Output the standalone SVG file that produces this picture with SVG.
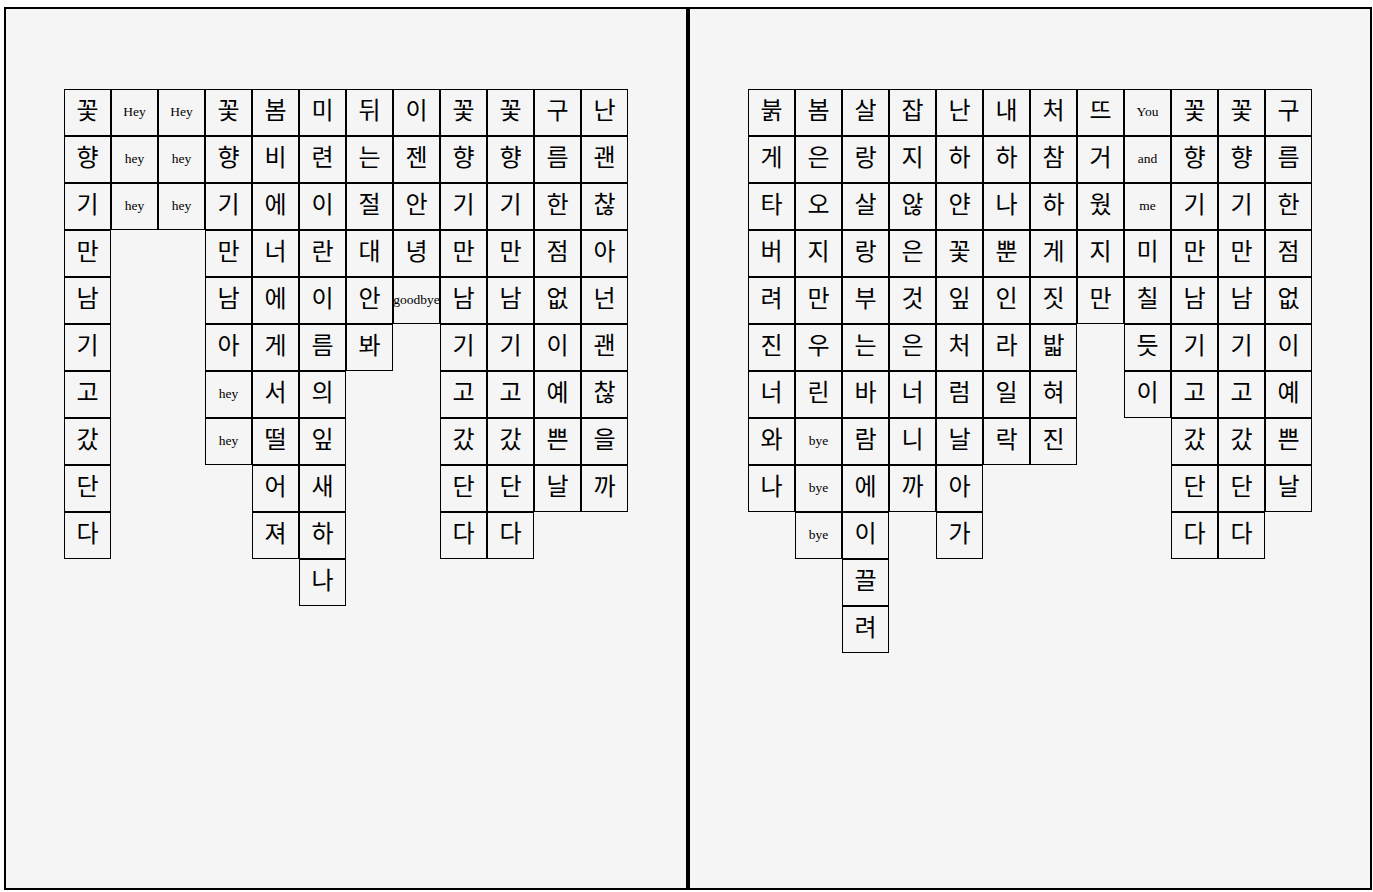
<svg xmlns="http://www.w3.org/2000/svg" width="1373" height="892" viewBox="0 0 1373 892">
<style>
.p{fill:#f5f5f5;stroke:#000;stroke-width:2}
.c{fill:#f5f5f5;stroke:#000;stroke-width:1}
.k{font-family:"Noto Sans CJK KR","Noto Sans",sans-serif;font-size:24px;text-anchor:middle;fill:#000}
.e{font-family:"Liberation Serif",serif;font-size:13.5px;text-anchor:middle;fill:#000}
</style>
<defs>
<rect id="box" class="c" x="0.5" y="0.5" width="46" height="46"/>
</defs>
<rect width="1373" height="892" fill="#fff"/>
<g id="panel-left"><rect class="p" x="5" y="8" width="682" height="881"/></g>
<g id="panel-right"><rect class="p" x="689" y="8" width="682" height="881"/></g>
<g id="connectors"></g>

<g id="left-grid">
<g id="L0-0" transform="translate(64,89)"><use href="#box"/><text class="k" x="23.5" y="29.5">꽃</text></g>
<g id="L0-1" transform="translate(64,136)"><use href="#box"/><text class="k" x="23.5" y="29.5">향</text></g>
<g id="L0-2" transform="translate(64,183)"><use href="#box"/><text class="k" x="23.5" y="29.5">기</text></g>
<g id="L0-3" transform="translate(64,230)"><use href="#box"/><text class="k" x="23.5" y="29.5">만</text></g>
<g id="L0-4" transform="translate(64,277)"><use href="#box"/><text class="k" x="23.5" y="29.5">남</text></g>
<g id="L0-5" transform="translate(64,324)"><use href="#box"/><text class="k" x="23.5" y="29.5">기</text></g>
<g id="L0-6" transform="translate(64,371)"><use href="#box"/><text class="k" x="23.5" y="29.5">고</text></g>
<g id="L0-7" transform="translate(64,418)"><use href="#box"/><text class="k" x="23.5" y="29.5">갔</text></g>
<g id="L0-8" transform="translate(64,465)"><use href="#box"/><text class="k" x="23.5" y="29.5">단</text></g>
<g id="L0-9" transform="translate(64,512)"><use href="#box"/><text class="k" x="23.5" y="29.5">다</text></g>

<g id="L1-0" transform="translate(111,89)"><use href="#box"/><text class="e" x="23.5" y="27">Hey</text></g>
<g id="L1-1" transform="translate(111,136)"><use href="#box"/><text class="e" x="23.5" y="27">hey</text></g>
<g id="L1-2" transform="translate(111,183)"><use href="#box"/><text class="e" x="23.5" y="27">hey</text></g>

<g id="L2-0" transform="translate(158,89)"><use href="#box"/><text class="e" x="23.5" y="27">Hey</text></g>
<g id="L2-1" transform="translate(158,136)"><use href="#box"/><text class="e" x="23.5" y="27">hey</text></g>
<g id="L2-2" transform="translate(158,183)"><use href="#box"/><text class="e" x="23.5" y="27">hey</text></g>

<g id="L3-0" transform="translate(205,89)"><use href="#box"/><text class="k" x="23.5" y="29.5">꽃</text></g>
<g id="L3-1" transform="translate(205,136)"><use href="#box"/><text class="k" x="23.5" y="29.5">향</text></g>
<g id="L3-2" transform="translate(205,183)"><use href="#box"/><text class="k" x="23.5" y="29.5">기</text></g>
<g id="L3-3" transform="translate(205,230)"><use href="#box"/><text class="k" x="23.5" y="29.5">만</text></g>
<g id="L3-4" transform="translate(205,277)"><use href="#box"/><text class="k" x="23.5" y="29.5">남</text></g>
<g id="L3-5" transform="translate(205,324)"><use href="#box"/><text class="k" x="23.5" y="29.5">아</text></g>
<g id="L3-6" transform="translate(205,371)"><use href="#box"/><text class="e" x="23.5" y="27">hey</text></g>
<g id="L3-7" transform="translate(205,418)"><use href="#box"/><text class="e" x="23.5" y="27">hey</text></g>

<g id="L4-0" transform="translate(252,89)"><use href="#box"/><text class="k" x="23.5" y="29.5">봄</text></g>
<g id="L4-1" transform="translate(252,136)"><use href="#box"/><text class="k" x="23.5" y="29.5">비</text></g>
<g id="L4-2" transform="translate(252,183)"><use href="#box"/><text class="k" x="23.5" y="29.5">에</text></g>
<g id="L4-3" transform="translate(252,230)"><use href="#box"/><text class="k" x="23.5" y="29.5">너</text></g>
<g id="L4-4" transform="translate(252,277)"><use href="#box"/><text class="k" x="23.5" y="29.5">에</text></g>
<g id="L4-5" transform="translate(252,324)"><use href="#box"/><text class="k" x="23.5" y="29.5">게</text></g>
<g id="L4-6" transform="translate(252,371)"><use href="#box"/><text class="k" x="23.5" y="29.5">서</text></g>
<g id="L4-7" transform="translate(252,418)"><use href="#box"/><text class="k" x="23.5" y="29.5">떨</text></g>
<g id="L4-8" transform="translate(252,465)"><use href="#box"/><text class="k" x="23.5" y="29.5">어</text></g>
<g id="L4-9" transform="translate(252,512)"><use href="#box"/><text class="k" x="23.5" y="29.5">져</text></g>

<g id="L5-0" transform="translate(299,89)"><use href="#box"/><text class="k" x="23.5" y="29.5">미</text></g>
<g id="L5-1" transform="translate(299,136)"><use href="#box"/><text class="k" x="23.5" y="29.5">련</text></g>
<g id="L5-2" transform="translate(299,183)"><use href="#box"/><text class="k" x="23.5" y="29.5">이</text></g>
<g id="L5-3" transform="translate(299,230)"><use href="#box"/><text class="k" x="23.5" y="29.5">란</text></g>
<g id="L5-4" transform="translate(299,277)"><use href="#box"/><text class="k" x="23.5" y="29.5">이</text></g>
<g id="L5-5" transform="translate(299,324)"><use href="#box"/><text class="k" x="23.5" y="29.5">름</text></g>
<g id="L5-6" transform="translate(299,371)"><use href="#box"/><text class="k" x="23.5" y="29.5">의</text></g>
<g id="L5-7" transform="translate(299,418)"><use href="#box"/><text class="k" x="23.5" y="29.5">잎</text></g>
<g id="L5-8" transform="translate(299,465)"><use href="#box"/><text class="k" x="23.5" y="29.5">새</text></g>
<g id="L5-9" transform="translate(299,512)"><use href="#box"/><text class="k" x="23.5" y="29.5">하</text></g>
<g id="L5-10" transform="translate(299,559)"><use href="#box"/><text class="k" x="23.5" y="29.5">나</text></g>

<g id="L6-0" transform="translate(346,89)"><use href="#box"/><text class="k" x="23.5" y="29.5">뒤</text></g>
<g id="L6-1" transform="translate(346,136)"><use href="#box"/><text class="k" x="23.5" y="29.5">는</text></g>
<g id="L6-2" transform="translate(346,183)"><use href="#box"/><text class="k" x="23.5" y="29.5">절</text></g>
<g id="L6-3" transform="translate(346,230)"><use href="#box"/><text class="k" x="23.5" y="29.5">대</text></g>
<g id="L6-4" transform="translate(346,277)"><use href="#box"/><text class="k" x="23.5" y="29.5">안</text></g>
<g id="L6-5" transform="translate(346,324)"><use href="#box"/><text class="k" x="23.5" y="29.5">봐</text></g>

<g id="L7-0" transform="translate(393,89)"><use href="#box"/><text class="k" x="23.5" y="29.5">이</text></g>
<g id="L7-1" transform="translate(393,136)"><use href="#box"/><text class="k" x="23.5" y="29.5">젠</text></g>
<g id="L7-2" transform="translate(393,183)"><use href="#box"/><text class="k" x="23.5" y="29.5">안</text></g>
<g id="L7-3" transform="translate(393,230)"><use href="#box"/><text class="k" x="23.5" y="29.5">녕</text></g>
<g id="L7-4" transform="translate(393,277)"><use href="#box"/><text class="e" x="23.5" y="27" font-size="13">goodbye</text></g>

<g id="L8-0" transform="translate(440,89)"><use href="#box"/><text class="k" x="23.5" y="29.5">꽃</text></g>
<g id="L8-1" transform="translate(440,136)"><use href="#box"/><text class="k" x="23.5" y="29.5">향</text></g>
<g id="L8-2" transform="translate(440,183)"><use href="#box"/><text class="k" x="23.5" y="29.5">기</text></g>
<g id="L8-3" transform="translate(440,230)"><use href="#box"/><text class="k" x="23.5" y="29.5">만</text></g>
<g id="L8-4" transform="translate(440,277)"><use href="#box"/><text class="k" x="23.5" y="29.5">남</text></g>
<g id="L8-5" transform="translate(440,324)"><use href="#box"/><text class="k" x="23.5" y="29.5">기</text></g>
<g id="L8-6" transform="translate(440,371)"><use href="#box"/><text class="k" x="23.5" y="29.5">고</text></g>
<g id="L8-7" transform="translate(440,418)"><use href="#box"/><text class="k" x="23.5" y="29.5">갔</text></g>
<g id="L8-8" transform="translate(440,465)"><use href="#box"/><text class="k" x="23.5" y="29.5">단</text></g>
<g id="L8-9" transform="translate(440,512)"><use href="#box"/><text class="k" x="23.5" y="29.5">다</text></g>

<g id="L9-0" transform="translate(487,89)"><use href="#box"/><text class="k" x="23.5" y="29.5">꽃</text></g>
<g id="L9-1" transform="translate(487,136)"><use href="#box"/><text class="k" x="23.5" y="29.5">향</text></g>
<g id="L9-2" transform="translate(487,183)"><use href="#box"/><text class="k" x="23.5" y="29.5">기</text></g>
<g id="L9-3" transform="translate(487,230)"><use href="#box"/><text class="k" x="23.5" y="29.5">만</text></g>
<g id="L9-4" transform="translate(487,277)"><use href="#box"/><text class="k" x="23.5" y="29.5">남</text></g>
<g id="L9-5" transform="translate(487,324)"><use href="#box"/><text class="k" x="23.5" y="29.5">기</text></g>
<g id="L9-6" transform="translate(487,371)"><use href="#box"/><text class="k" x="23.5" y="29.5">고</text></g>
<g id="L9-7" transform="translate(487,418)"><use href="#box"/><text class="k" x="23.5" y="29.5">갔</text></g>
<g id="L9-8" transform="translate(487,465)"><use href="#box"/><text class="k" x="23.5" y="29.5">단</text></g>
<g id="L9-9" transform="translate(487,512)"><use href="#box"/><text class="k" x="23.5" y="29.5">다</text></g>

<g id="L10-0" transform="translate(534,89)"><use href="#box"/><text class="k" x="23.5" y="29.5">구</text></g>
<g id="L10-1" transform="translate(534,136)"><use href="#box"/><text class="k" x="23.5" y="29.5">름</text></g>
<g id="L10-2" transform="translate(534,183)"><use href="#box"/><text class="k" x="23.5" y="29.5">한</text></g>
<g id="L10-3" transform="translate(534,230)"><use href="#box"/><text class="k" x="23.5" y="29.5">점</text></g>
<g id="L10-4" transform="translate(534,277)"><use href="#box"/><text class="k" x="23.5" y="29.5">없</text></g>
<g id="L10-5" transform="translate(534,324)"><use href="#box"/><text class="k" x="23.5" y="29.5">이</text></g>
<g id="L10-6" transform="translate(534,371)"><use href="#box"/><text class="k" x="23.5" y="29.5">예</text></g>
<g id="L10-7" transform="translate(534,418)"><use href="#box"/><text class="k" x="23.5" y="29.5">쁜</text></g>
<g id="L10-8" transform="translate(534,465)"><use href="#box"/><text class="k" x="23.5" y="29.5">날</text></g>

<g id="L11-0" transform="translate(581,89)"><use href="#box"/><text class="k" x="23.5" y="29.5">난</text></g>
<g id="L11-1" transform="translate(581,136)"><use href="#box"/><text class="k" x="23.5" y="29.5">괜</text></g>
<g id="L11-2" transform="translate(581,183)"><use href="#box"/><text class="k" x="23.5" y="29.5">찮</text></g>
<g id="L11-3" transform="translate(581,230)"><use href="#box"/><text class="k" x="23.5" y="29.5">아</text></g>
<g id="L11-4" transform="translate(581,277)"><use href="#box"/><text class="k" x="23.5" y="29.5">넌</text></g>
<g id="L11-5" transform="translate(581,324)"><use href="#box"/><text class="k" x="23.5" y="29.5">괜</text></g>
<g id="L11-6" transform="translate(581,371)"><use href="#box"/><text class="k" x="23.5" y="29.5">찮</text></g>
<g id="L11-7" transform="translate(581,418)"><use href="#box"/><text class="k" x="23.5" y="29.5">을</text></g>
<g id="L11-8" transform="translate(581,465)"><use href="#box"/><text class="k" x="23.5" y="29.5">까</text></g>
</g>

<g id="right-grid">
<g id="R0-0" transform="translate(748,89)"><use href="#box"/><text class="k" x="23.5" y="29.5">붉</text></g>
<g id="R0-1" transform="translate(748,136)"><use href="#box"/><text class="k" x="23.5" y="29.5">게</text></g>
<g id="R0-2" transform="translate(748,183)"><use href="#box"/><text class="k" x="23.5" y="29.5">타</text></g>
<g id="R0-3" transform="translate(748,230)"><use href="#box"/><text class="k" x="23.5" y="29.5">버</text></g>
<g id="R0-4" transform="translate(748,277)"><use href="#box"/><text class="k" x="23.5" y="29.5">려</text></g>
<g id="R0-5" transform="translate(748,324)"><use href="#box"/><text class="k" x="23.5" y="29.5">진</text></g>
<g id="R0-6" transform="translate(748,371)"><use href="#box"/><text class="k" x="23.5" y="29.5">너</text></g>
<g id="R0-7" transform="translate(748,418)"><use href="#box"/><text class="k" x="23.5" y="29.5">와</text></g>
<g id="R0-8" transform="translate(748,465)"><use href="#box"/><text class="k" x="23.5" y="29.5">나</text></g>

<g id="R1-0" transform="translate(795,89)"><use href="#box"/><text class="k" x="23.5" y="29.5">봄</text></g>
<g id="R1-1" transform="translate(795,136)"><use href="#box"/><text class="k" x="23.5" y="29.5">은</text></g>
<g id="R1-2" transform="translate(795,183)"><use href="#box"/><text class="k" x="23.5" y="29.5">오</text></g>
<g id="R1-3" transform="translate(795,230)"><use href="#box"/><text class="k" x="23.5" y="29.5">지</text></g>
<g id="R1-4" transform="translate(795,277)"><use href="#box"/><text class="k" x="23.5" y="29.5">만</text></g>
<g id="R1-5" transform="translate(795,324)"><use href="#box"/><text class="k" x="23.5" y="29.5">우</text></g>
<g id="R1-6" transform="translate(795,371)"><use href="#box"/><text class="k" x="23.5" y="29.5">린</text></g>
<g id="R1-7" transform="translate(795,418)"><use href="#box"/><text class="e" x="23.5" y="27">bye</text></g>
<g id="R1-8" transform="translate(795,465)"><use href="#box"/><text class="e" x="23.5" y="27">bye</text></g>
<g id="R1-9" transform="translate(795,512)"><use href="#box"/><text class="e" x="23.5" y="27">bye</text></g>

<g id="R2-0" transform="translate(842,89)"><use href="#box"/><text class="k" x="23.5" y="29.5">살</text></g>
<g id="R2-1" transform="translate(842,136)"><use href="#box"/><text class="k" x="23.5" y="29.5">랑</text></g>
<g id="R2-2" transform="translate(842,183)"><use href="#box"/><text class="k" x="23.5" y="29.5">살</text></g>
<g id="R2-3" transform="translate(842,230)"><use href="#box"/><text class="k" x="23.5" y="29.5">랑</text></g>
<g id="R2-4" transform="translate(842,277)"><use href="#box"/><text class="k" x="23.5" y="29.5">부</text></g>
<g id="R2-5" transform="translate(842,324)"><use href="#box"/><text class="k" x="23.5" y="29.5">는</text></g>
<g id="R2-6" transform="translate(842,371)"><use href="#box"/><text class="k" x="23.5" y="29.5">바</text></g>
<g id="R2-7" transform="translate(842,418)"><use href="#box"/><text class="k" x="23.5" y="29.5">람</text></g>
<g id="R2-8" transform="translate(842,465)"><use href="#box"/><text class="k" x="23.5" y="29.5">에</text></g>
<g id="R2-9" transform="translate(842,512)"><use href="#box"/><text class="k" x="23.5" y="29.5">이</text></g>
<g id="R2-10" transform="translate(842,559)"><use href="#box"/><text class="k" x="23.5" y="29.5">끌</text></g>
<g id="R2-11" transform="translate(842,606)"><use href="#box"/><text class="k" x="23.5" y="29.5">려</text></g>

<g id="R3-0" transform="translate(889,89)"><use href="#box"/><text class="k" x="23.5" y="29.5">잡</text></g>
<g id="R3-1" transform="translate(889,136)"><use href="#box"/><text class="k" x="23.5" y="29.5">지</text></g>
<g id="R3-2" transform="translate(889,183)"><use href="#box"/><text class="k" x="23.5" y="29.5">않</text></g>
<g id="R3-3" transform="translate(889,230)"><use href="#box"/><text class="k" x="23.5" y="29.5">은</text></g>
<g id="R3-4" transform="translate(889,277)"><use href="#box"/><text class="k" x="23.5" y="29.5">것</text></g>
<g id="R3-5" transform="translate(889,324)"><use href="#box"/><text class="k" x="23.5" y="29.5">은</text></g>
<g id="R3-6" transform="translate(889,371)"><use href="#box"/><text class="k" x="23.5" y="29.5">너</text></g>
<g id="R3-7" transform="translate(889,418)"><use href="#box"/><text class="k" x="23.5" y="29.5">니</text></g>
<g id="R3-8" transform="translate(889,465)"><use href="#box"/><text class="k" x="23.5" y="29.5">까</text></g>

<g id="R4-0" transform="translate(936,89)"><use href="#box"/><text class="k" x="23.5" y="29.5">난</text></g>
<g id="R4-1" transform="translate(936,136)"><use href="#box"/><text class="k" x="23.5" y="29.5">하</text></g>
<g id="R4-2" transform="translate(936,183)"><use href="#box"/><text class="k" x="23.5" y="29.5">얀</text></g>
<g id="R4-3" transform="translate(936,230)"><use href="#box"/><text class="k" x="23.5" y="29.5">꽃</text></g>
<g id="R4-4" transform="translate(936,277)"><use href="#box"/><text class="k" x="23.5" y="29.5">잎</text></g>
<g id="R4-5" transform="translate(936,324)"><use href="#box"/><text class="k" x="23.5" y="29.5">처</text></g>
<g id="R4-6" transform="translate(936,371)"><use href="#box"/><text class="k" x="23.5" y="29.5">럼</text></g>
<g id="R4-7" transform="translate(936,418)"><use href="#box"/><text class="k" x="23.5" y="29.5">날</text></g>
<g id="R4-8" transform="translate(936,465)"><use href="#box"/><text class="k" x="23.5" y="29.5">아</text></g>
<g id="R4-9" transform="translate(936,512)"><use href="#box"/><text class="k" x="23.5" y="29.5">가</text></g>

<g id="R5-0" transform="translate(983,89)"><use href="#box"/><text class="k" x="23.5" y="29.5">내</text></g>
<g id="R5-1" transform="translate(983,136)"><use href="#box"/><text class="k" x="23.5" y="29.5">하</text></g>
<g id="R5-2" transform="translate(983,183)"><use href="#box"/><text class="k" x="23.5" y="29.5">나</text></g>
<g id="R5-3" transform="translate(983,230)"><use href="#box"/><text class="k" x="23.5" y="29.5">뿐</text></g>
<g id="R5-4" transform="translate(983,277)"><use href="#box"/><text class="k" x="23.5" y="29.5">인</text></g>
<g id="R5-5" transform="translate(983,324)"><use href="#box"/><text class="k" x="23.5" y="29.5">라</text></g>
<g id="R5-6" transform="translate(983,371)"><use href="#box"/><text class="k" x="23.5" y="29.5">일</text></g>
<g id="R5-7" transform="translate(983,418)"><use href="#box"/><text class="k" x="23.5" y="29.5">락</text></g>

<g id="R6-0" transform="translate(1030,89)"><use href="#box"/><text class="k" x="23.5" y="29.5">처</text></g>
<g id="R6-1" transform="translate(1030,136)"><use href="#box"/><text class="k" x="23.5" y="29.5">참</text></g>
<g id="R6-2" transform="translate(1030,183)"><use href="#box"/><text class="k" x="23.5" y="29.5">하</text></g>
<g id="R6-3" transform="translate(1030,230)"><use href="#box"/><text class="k" x="23.5" y="29.5">게</text></g>
<g id="R6-4" transform="translate(1030,277)"><use href="#box"/><text class="k" x="23.5" y="29.5">짓</text></g>
<g id="R6-5" transform="translate(1030,324)"><use href="#box"/><text class="k" x="23.5" y="29.5">밟</text></g>
<g id="R6-6" transform="translate(1030,371)"><use href="#box"/><text class="k" x="23.5" y="29.5">혀</text></g>
<g id="R6-7" transform="translate(1030,418)"><use href="#box"/><text class="k" x="23.5" y="29.5">진</text></g>

<g id="R7-0" transform="translate(1077,89)"><use href="#box"/><text class="k" x="23.5" y="29.5">뜨</text></g>
<g id="R7-1" transform="translate(1077,136)"><use href="#box"/><text class="k" x="23.5" y="29.5">거</text></g>
<g id="R7-2" transform="translate(1077,183)"><use href="#box"/><text class="k" x="23.5" y="29.5">웠</text></g>
<g id="R7-3" transform="translate(1077,230)"><use href="#box"/><text class="k" x="23.5" y="29.5">지</text></g>
<g id="R7-4" transform="translate(1077,277)"><use href="#box"/><text class="k" x="23.5" y="29.5">만</text></g>

<g id="R8-0" transform="translate(1124,89)"><use href="#box"/><text class="e" x="23.5" y="27">You</text></g>
<g id="R8-1" transform="translate(1124,136)"><use href="#box"/><text class="e" x="23.5" y="27">and</text></g>
<g id="R8-2" transform="translate(1124,183)"><use href="#box"/><text class="e" x="23.5" y="27">me</text></g>
<g id="R8-3" transform="translate(1124,230)"><use href="#box"/><text class="k" x="23.5" y="29.5">미</text></g>
<g id="R8-4" transform="translate(1124,277)"><use href="#box"/><text class="k" x="23.5" y="29.5">칠</text></g>
<g id="R8-5" transform="translate(1124,324)"><use href="#box"/><text class="k" x="23.5" y="29.5">듯</text></g>
<g id="R8-6" transform="translate(1124,371)"><use href="#box"/><text class="k" x="23.5" y="29.5">이</text></g>

<g id="R9-0" transform="translate(1171,89)"><use href="#box"/><text class="k" x="23.5" y="29.5">꽃</text></g>
<g id="R9-1" transform="translate(1171,136)"><use href="#box"/><text class="k" x="23.5" y="29.5">향</text></g>
<g id="R9-2" transform="translate(1171,183)"><use href="#box"/><text class="k" x="23.5" y="29.5">기</text></g>
<g id="R9-3" transform="translate(1171,230)"><use href="#box"/><text class="k" x="23.5" y="29.5">만</text></g>
<g id="R9-4" transform="translate(1171,277)"><use href="#box"/><text class="k" x="23.5" y="29.5">남</text></g>
<g id="R9-5" transform="translate(1171,324)"><use href="#box"/><text class="k" x="23.5" y="29.5">기</text></g>
<g id="R9-6" transform="translate(1171,371)"><use href="#box"/><text class="k" x="23.5" y="29.5">고</text></g>
<g id="R9-7" transform="translate(1171,418)"><use href="#box"/><text class="k" x="23.5" y="29.5">갔</text></g>
<g id="R9-8" transform="translate(1171,465)"><use href="#box"/><text class="k" x="23.5" y="29.5">단</text></g>
<g id="R9-9" transform="translate(1171,512)"><use href="#box"/><text class="k" x="23.5" y="29.5">다</text></g>

<g id="R10-0" transform="translate(1218,89)"><use href="#box"/><text class="k" x="23.5" y="29.5">꽃</text></g>
<g id="R10-1" transform="translate(1218,136)"><use href="#box"/><text class="k" x="23.5" y="29.5">향</text></g>
<g id="R10-2" transform="translate(1218,183)"><use href="#box"/><text class="k" x="23.5" y="29.5">기</text></g>
<g id="R10-3" transform="translate(1218,230)"><use href="#box"/><text class="k" x="23.5" y="29.5">만</text></g>
<g id="R10-4" transform="translate(1218,277)"><use href="#box"/><text class="k" x="23.5" y="29.5">남</text></g>
<g id="R10-5" transform="translate(1218,324)"><use href="#box"/><text class="k" x="23.5" y="29.5">기</text></g>
<g id="R10-6" transform="translate(1218,371)"><use href="#box"/><text class="k" x="23.5" y="29.5">고</text></g>
<g id="R10-7" transform="translate(1218,418)"><use href="#box"/><text class="k" x="23.5" y="29.5">갔</text></g>
<g id="R10-8" transform="translate(1218,465)"><use href="#box"/><text class="k" x="23.5" y="29.5">단</text></g>
<g id="R10-9" transform="translate(1218,512)"><use href="#box"/><text class="k" x="23.5" y="29.5">다</text></g>

<g id="R11-0" transform="translate(1265,89)"><use href="#box"/><text class="k" x="23.5" y="29.5">구</text></g>
<g id="R11-1" transform="translate(1265,136)"><use href="#box"/><text class="k" x="23.5" y="29.5">름</text></g>
<g id="R11-2" transform="translate(1265,183)"><use href="#box"/><text class="k" x="23.5" y="29.5">한</text></g>
<g id="R11-3" transform="translate(1265,230)"><use href="#box"/><text class="k" x="23.5" y="29.5">점</text></g>
<g id="R11-4" transform="translate(1265,277)"><use href="#box"/><text class="k" x="23.5" y="29.5">없</text></g>
<g id="R11-5" transform="translate(1265,324)"><use href="#box"/><text class="k" x="23.5" y="29.5">이</text></g>
<g id="R11-6" transform="translate(1265,371)"><use href="#box"/><text class="k" x="23.5" y="29.5">예</text></g>
<g id="R11-7" transform="translate(1265,418)"><use href="#box"/><text class="k" x="23.5" y="29.5">쁜</text></g>
<g id="R11-8" transform="translate(1265,465)"><use href="#box"/><text class="k" x="23.5" y="29.5">날</text></g>
</g>
</svg>
